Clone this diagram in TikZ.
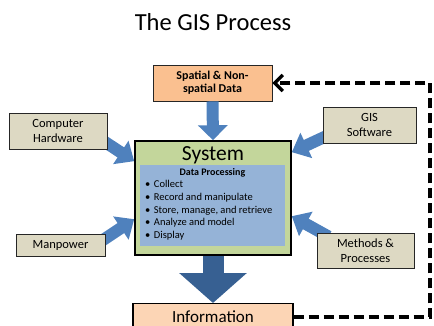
\documentclass[tikz,border=0pt]{standalone}
\usepackage{fontspec}
\setmainfont{Carlito}
\usetikzlibrary{arrows.meta,calc,positioning,backgrounds}
\definecolor{tanfill}{HTML}{DDD9C3}
\definecolor{orangefill}{HTML}{FAC090}
\definecolor{peachfill}{HTML}{FCD5B5}
\definecolor{sysgreen}{HTML}{C3D69B}
\definecolor{procblue}{HTML}{95B3D7}
\definecolor{arrowblue}{HTML}{4F81BD}
\definecolor{darkblue}{HTML}{376092}
\tikzset{
  inputbox/.style={draw=black!85, line width=0.9pt, fill=tanfill, align=center,
    inner sep=0pt, font=\fontsize{12.5}{15}\selectfont},
  feed/.style={arrowblue, line width=12pt, -{Triangle[length=16pt,width=27pt]}},
  loopback/.style={line width=3.3pt, dash pattern=on 10pt off 5pt,
    -{Straight Barb[length=8pt,width=16pt]}}
}

\begin{document}
\begin{tikzpicture}[x=1pt,y=-1pt]
  \clip (0,0) rectangle (434,326);
  \useasboundingbox (0,0) rectangle (434,326);
  \node[font=\fontsize{24.5}{28}\selectfont] (title) at (213,22) {The GIS Process};

  \node[draw=black!85, line width=0.9pt, fill=orangefill, minimum width=119pt, minimum height=36pt,
    inner sep=0pt, align=center, font=\fontsize{12}{13}\selectfont\bfseries] (data) at (212.5,83)
    {Spatial \& Non-\\spatial Data};
  \node[inputbox, minimum width=98pt, minimum height=36pt] (hw) at (58,131) {Computer\\Hardware};
  \node[inputbox, minimum width=93pt, minimum height=36pt] (gis) at (369.5,125) {GIS\\Software};
  \node[inputbox, minimum width=89pt, minimum height=22pt] (mp) at (60.5,245) {Manpower};
  \node[inputbox, minimum width=97pt, minimum height=35pt] (meth) at (365.5,250.5) {Methods \&\\Processes};

  \node[draw=black, line width=1.6pt, fill=sysgreen, minimum width=156pt, minimum height=114pt,
    inner sep=0pt] (sys) at (213,198) {};
  \node[font=\fontsize{21.5}{26}\selectfont] (systxt) at (213,155) {System};
  \node[fill=procblue, minimum width=145pt, minimum height=81pt, inner sep=0pt] (proc) at (212.5,205.5) {};
  \node[font=\fontsize{10}{12}\selectfont\bfseries] (proctitle) at (212.5,173) {Data Processing};
  \node[anchor=north west, inner sep=0pt, align=left, font=\fontsize{10.5}{12.8}\selectfont] (steps)
    at (145,180) {\textbullet\hspace{3.5pt}Collect\\
      \textbullet\hspace{3.5pt}Record and manipulate\\
      \textbullet\hspace{3.5pt}Store, manage, and retrieve\\
      \textbullet\hspace{3.5pt}Analyze and model\\
      \textbullet\hspace{3.5pt}Display};

  \node[draw=black, line width=1.4pt, fill=peachfill, minimum width=160pt, minimum height=40pt,
    inner sep=0pt, anchor=north] (info) at (213,303) {};
  \node[font=\fontsize{17}{20}\selectfont] (infotxt) at (213,316.5) {Information};

  \begin{scope}[on background layer]
    \draw[feed] ($(hw.east)+(-4,10)$) -- ($(sys.north west)+(0,21)$);
    \draw[feed] ($(gis.west)+(4,11)$) -- ($(sys.north east)+(0,12)$);
    \draw[feed] ($(mp.east)+(-4,-4)$) -- ($(sys.north west)+(0,79)$);
    \draw[feed] ($(meth.north west)+(12,4)$) -- ($(sys.north east)+(0,76)$);
  \end{scope}
  \draw[arrowblue, line width=12pt, -{Triangle[length=15pt,width=29pt]}] (data.south) -- (sys.north);
  \draw[darkblue, line width=21pt, -{Triangle[length=30pt,width=66pt]}] (sys.south) -- (info.north);

  \coordinate (turn) at (430,83);
  \draw[loopback] ($(info.north east)+(0,14)$) -| (turn) -- (data.east);
\end{tikzpicture}
\end{document}
